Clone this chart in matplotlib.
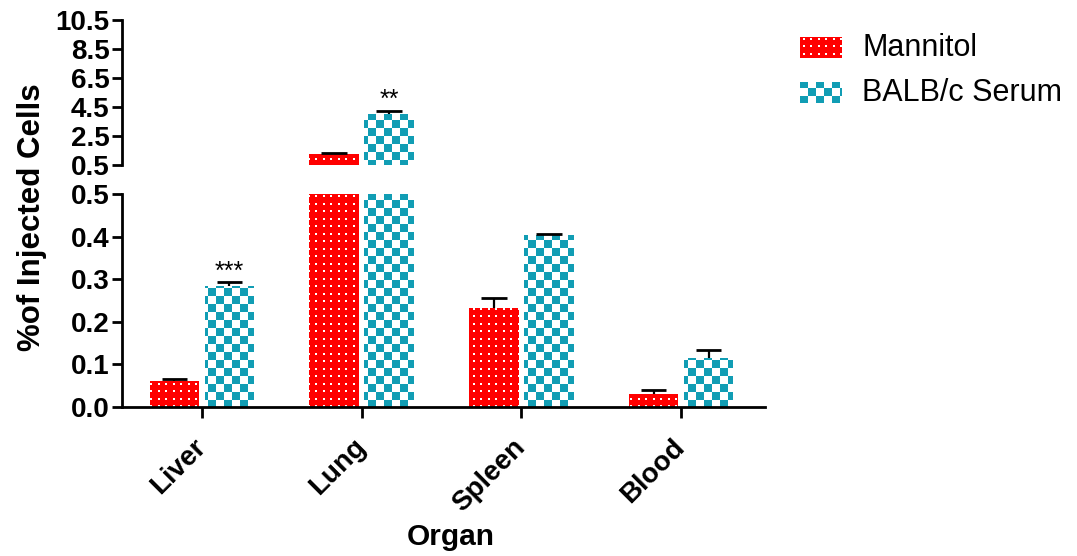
import numpy as np
import matplotlib
matplotlib.use('Agg')
import matplotlib.pyplot as plt
from matplotlib.patches import Rectangle

# ---- data ----
organs = ['Liver', 'Lung', 'Spleen', 'Blood']
series_names = ['Mannitol', 'BALB/c Serum']
mannitol = [0.062, 1.25, 0.232, 0.030]
mannitol_err = [0.003, 0.05, 0.025, 0.010]
serum = [0.284, 4.02, 0.404, 0.116]
serum_err = [0.009, 0.22, 0.002, 0.017]
significance = ['***', '**', '', '']
lower_ticks = [0.0, 0.1, 0.2, 0.3, 0.4, 0.5]
upper_ticks = [0.5, 2.5, 4.5, 6.5, 8.5, 10.5]

plt.rcParams['font.family'] = ['Liberation Sans', 'DejaVu Sans']

W, H = 1077, 556
fig = plt.figure(figsize=(W / 100, H / 100), dpi=100)

left, right = 122, 765
ax_lo = fig.add_axes([left / W, 1 - 407 / H, (right - left) / W, (407 - 194) / H])
ax_hi = fig.add_axes([left / W, 1 - 165 / H, (right - left) / W, (165 - 20) / H])

# ---- textures (pixel-anchored) ----
yy, xx = np.mgrid[0:H, 0:W]
red_tex = np.ones((H, W, 4))
red_tex[..., :3] = (1.0, 0.0, 0.0)
dots = ((xx % 7.5) < 2) & ((yy % 7.5) < 2)
red_tex[dots, :3] = 1.0
teal = np.array([17, 157, 180]) / 255.0
teal_tex = np.ones((H, W, 4))
check = ((xx // 8) + (yy // 8)) % 2 == 0
teal_tex[check, :3] = teal


def texture_fill(patch, tex, clipbox=None):
    im = fig.figimage(tex, xo=0, yo=0, origin='upper', zorder=-1)
    im.set_clip_path(patch.get_path(), patch.get_transform())
    if clipbox is not None:
        im.set_clip_box(clipbox)
    return im


x = np.arange(len(organs))
width = 0.31
off = 0.172
cap = 0.08

for ax, ylim, ticks in ((ax_lo, (0, 0.5), lower_ticks), (ax_hi, (0.5, 10.5), upper_ticks)):
    ax.patch.set_visible(False)
    b1 = ax.bar(x - off, mannitol, width, facecolor='none', edgecolor='none')
    b2 = ax.bar(x + off, serum, width, facecolor='none', edgecolor='none')
    for bar in b1:
        texture_fill(bar, red_tex, ax.bbox)
    for bar in b2:
        texture_fill(bar, teal_tex, ax.bbox)
    for xs, vals, errs in ((x - off, mannitol, mannitol_err), (x + off, serum, serum_err)):
        tops = np.array(vals) + np.array(errs)
        ax.vlines(xs, vals, tops, color='black', linewidth=1.6, zorder=3)
        ax.hlines(tops, xs - cap, xs + cap, color='black', linewidth=2.0, zorder=3)
    ax.set_xlim(-0.5, 3.525)
    ax.set_ylim(*ylim)
    ax.set_yticks(ticks)
    ax.set_yticklabels([f'{t:.1f}' for t in ticks], fontsize=20, fontweight='bold')
    ax.spines['top'].set_visible(False)
    ax.spines['right'].set_visible(False)
    ax.spines['left'].set_linewidth(2)
    ax.tick_params(axis='y', direction='out', length=7, width=2, pad=2)

ax_hi.spines['bottom'].set_visible(False)
ax_hi.set_xticks([])
ax_lo.spines['bottom'].set_linewidth(2)
ax_lo.set_xticks(x)
ax_lo.set_xticklabels(organs, fontsize=20, fontweight='bold', rotation=45,
                      ha='right', rotation_mode='anchor', va='center')
ax_lo.tick_params(axis='x', direction='out', length=8, width=2, pad=18)

# significance marks
for i, s in enumerate(significance):
    if not s:
        continue
    val = serum[i] + serum_err[i]
    if val < 0.5:
        ax_lo.text(x[i] + off, val - 0.004, s, ha='center', va='bottom', fontsize=18)
    else:
        ax_hi.text(x[i] + off, val - 0.1, s, ha='center', va='bottom', fontsize=18)

# axis labels
fig.text(32 / W, 1 - 217 / H, '%of Injected Cells', rotation=90, ha='center', va='center',
         fontsize=22.5, fontweight='bold')
fig.text(451 / W, 1 - 545 / H, 'Organ', ha='center', va='baseline',
         fontsize=21.5, fontweight='bold')

# legend (manual)
leg_tex = [red_tex, teal_tex]
leg_y = [37, 82]
for name, tex, yt in zip(series_names, leg_tex, leg_y):
    r = Rectangle((800 / W, 1 - (yt + 21) / H), 42 / W, 21 / H, transform=fig.transFigure,
                  facecolor='none', edgecolor='none')
    fig.add_artist(r)
    texture_fill(r, tex)
    fig.text(862 / W, 1 - (yt + 11) / H, name, ha='left', va='center', fontsize=22)

fig.savefig('out.png', dpi=100)
